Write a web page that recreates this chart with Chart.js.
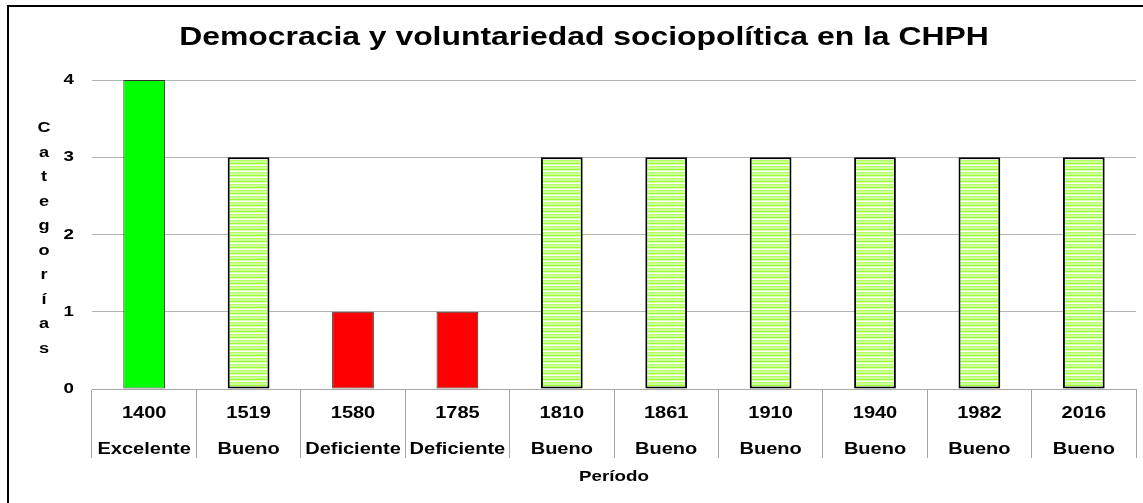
<!DOCTYPE html>
<html>
<head>
<meta charset="utf-8">
<title>Democracia y voluntariedad sociopolítica en la CHPH</title>
<script src="https://cdn.jsdelivr.net/npm/chart.js@4.4.1/dist/chart.umd.min.js"></script>
<style>
  html, body { margin: 0; padding: 0; background: #ffffff; }
  #wrap { position: relative; width: 1143px; height: 503px; }
  canvas { display: block; }
</style>
</head>
<body>
<div id="wrap"><canvas id="chart" width="1143" height="503"></canvas></div>
<script>
// Periods and their ratings
const years = ['1400', '1519', '1580', '1785', '1810', '1861', '1910', '1940', '1982', '2016'];
const ratings = ['Excelente', 'Bueno', 'Deficiente', 'Deficiente', 'Bueno', 'Bueno', 'Bueno', 'Bueno', 'Bueno', 'Bueno'];
// Category score for each period (4 = Excelente, 3 = Bueno, 1 = Deficiente)
const scores = [4, 3, 1, 1, 3, 3, 3, 3, 3, 3];
const yTicks = [0, 1, 2, 3, 4];
const yTitleLetters = ['C', 'a', 't', 'e', 'g', 'o', 'r', 'í', 'a', 's'];
const chartTitle = 'Democracia y voluntariedad sociopolítica en la CHPH';
const xTitle = 'Período';

const FONT = '"Liberation Sans", Arial, sans-serif';
const TEXT_STRETCH = 1.25;   // wide, horizontally stretched lettering

const canvas = document.getElementById('chart');
const ctx2d = canvas.getContext('2d');

// All text on this canvas is drawn horizontally stretched around its anchor point
const plainFillText = ctx2d.fillText.bind(ctx2d);
ctx2d.fillText = function (text, x, y) {
  this.save();
  this.translate(x, y);
  this.scale(TEXT_STRETCH, 1);
  plainFillText(text, 0, 0);
  this.restore();
};

// Horizontal-stripe fill used for the "Bueno" bars
function stripePattern() {
  const rows = ['#ccff99', '#99ff33', '#d9ffb3', '#ffffff', '#b3ff66', '#ccff99'];
  const c = document.createElement('canvas');
  c.width = 4; c.height = rows.length;
  const g = c.getContext('2d');
  rows.forEach((col, i) => { g.fillStyle = col; g.fillRect(0, i, 4, 1); });
  return ctx2d.createPattern(c, 'repeat');
}
const stripes = stripePattern();

function fillFor(r) {
  if (r === 'Excelente') return '#00ff00';
  if (r === 'Deficiente') return '#ff0000';
  return stripes;
}

const labels = years.map((y, i) => [y, ratings[i]]);

// White background, the open frame along the top and left, and the heading
const framePlugin = {
  id: 'frame',
  beforeDraw(chart) {
    const ctx = chart.ctx;
    ctx.save();
    ctx.fillStyle = '#ffffff';
    ctx.fillRect(0, 0, chart.width, chart.height);
    ctx.strokeStyle = '#000000';
    ctx.lineWidth = 2;
    ctx.beginPath();
    ctx.moveTo(8, chart.height + 2);
    ctx.lineTo(8, 6);
    ctx.lineTo(chart.width + 2, 6);
    ctx.stroke();

    ctx.fillStyle = '#000000';
    ctx.font = 'bold 25.5px ' + FONT;
    ctx.textAlign = 'center';
    ctx.textBaseline = 'middle';
    ctx.fillText(chartTitle, 584, 38);
    ctx.restore();
  }
};

// Y-axis title written as a column of upright letters
const stackedTitlePlugin = {
  id: 'stackedTitle',
  afterDraw(chart) {
    const ctx = chart.ctx;
    const area = chart.chartArea;
    const step = 24.5;
    const mid = (area.top + area.bottom) / 2 + 4;
    const y0 = mid - step * (yTitleLetters.length - 1) / 2;
    ctx.save();
    ctx.fillStyle = '#000000';
    ctx.font = 'bold 14.5px ' + FONT;
    ctx.textAlign = 'center';
    ctx.textBaseline = 'middle';
    yTitleLetters.forEach((ch, i) => ctx.fillText(ch, 44, y0 + i * step));
    ctx.restore();
  }
};

new Chart(canvas, {
  type: 'bar',
  data: {
    labels: labels,
    datasets: [{
      data: scores,
      backgroundColor: ratings.map(fillFor),
      borderColor: ratings.map(r => r === 'Bueno' ? '#000000' : '#333333'),
      borderWidth: ratings.map(r => r === 'Bueno' ? 2 : 1),
      borderSkipped: false,
      barPercentage: 0.4,
      categoryPercentage: 1.0
    }]
  },
  options: {
    responsive: false,
    animation: false,
    events: [],
    layout: { padding: { left: 0, right: 7, top: 80, bottom: 0 } },
    plugins: {
      legend: { display: false },
      tooltip: { enabled: false },
      title: { display: false }
    },
    scales: {
      x: {
        offset: true,
        grid: {
          offset: true,
          drawOnChartArea: false,
          drawTicks: true,
          tickLength: 69,
          color: '#a6a6a6',
          lineWidth: 1
        },
        border: { display: true, color: '#a6a6a6', width: 1 },
        ticks: {
          color: '#000000',
          font: { family: FONT, size: 16, weight: 'bold', lineHeight: 36 / 16 },
          padding: -62,
          maxRotation: 0,
          autoSkip: false
        },
        title: {
          display: true,
          text: xTitle,
          color: '#000000',
          font: { family: FONT, size: 15, weight: 'bold', lineHeight: 1.2 },
          padding: { top: 0, bottom: 17 }
        },
        afterFit(scale) { scale.height = 114; }
      },
      y: {
        min: 0,
        max: 4,
        afterBuildTicks(scale) { scale.ticks = yTicks.map(v => ({ value: v })); },
        grid: { color: '#b4b4b4', lineWidth: 1, drawTicks: false },
        border: { display: false },
        ticks: {
          color: '#000000',
          font: { family: FONT, size: 15, weight: 'bold' },
          padding: 18
        },
        afterFit(scale) { scale.width = 92; }
      }
    }
  },
  plugins: [framePlugin, stackedTitlePlugin]
});
</script>
</body>
</html>
